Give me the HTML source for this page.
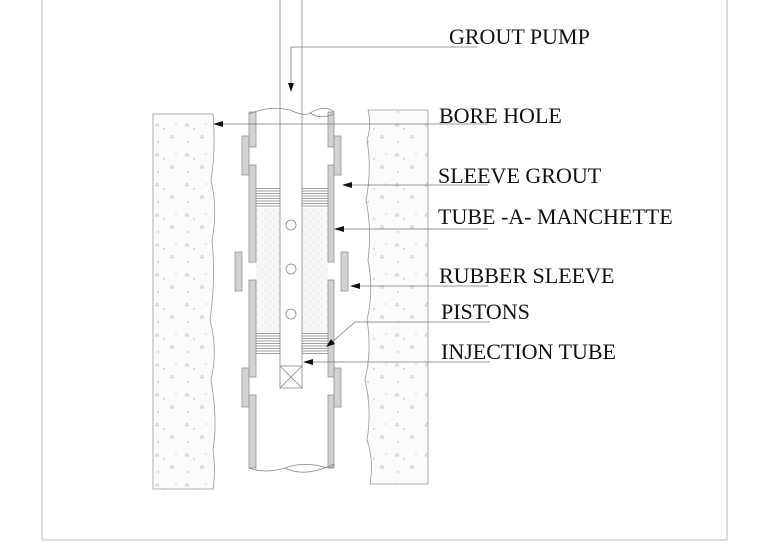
<!DOCTYPE html>
<html><head><meta charset="utf-8"><style>
html,body{margin:0;padding:0;background:#fff;}
svg{display:block;}
text{font-family:"Liberation Serif",serif;font-size:22px;fill:#111;}
</style></head><body>
<svg width="768" height="542" viewBox="0 0 768 542" xmlns="http://www.w3.org/2000/svg">
<defs>
<pattern id="speck" width="30" height="30" patternUnits="userSpaceOnUse">
<rect width="30" height="30" fill="#fbfbfb"/>
<path d="M5 6l2-3 2 3z M20 18l2-3 2 3z" fill="none" stroke="#aaa" stroke-width="0.5"/>
<circle cx="14" cy="9" r="0.7" fill="#aaa"/><circle cx="8" cy="22" r="0.7" fill="#aaa"/><circle cx="26" cy="4" r="0.6" fill="#bbb"/>
</pattern>
<pattern id="fine" width="8" height="8" patternUnits="userSpaceOnUse">
<rect width="8" height="8" fill="#f6f6f6"/><circle cx="2" cy="3" r="0.5" fill="#bbb"/><circle cx="6" cy="6" r="0.5" fill="#ccc"/>
</pattern>
<pattern id="hatch" width="4" height="2.5" patternUnits="userSpaceOnUse">
<rect width="4" height="2.5" fill="#fff"/><line x1="0" y1="1" x2="4" y2="1" stroke="#888" stroke-width="0.8"/>
</pattern>
</defs>
<g fill="none" stroke="#bbb" stroke-width="1">
<line x1="42" y1="0" x2="42" y2="540"/><line x1="42" y1="540" x2="727" y2="540"/><line x1="727" y1="0" x2="727" y2="540"/>
</g>
<path d="M153 114 H213 Q216 150 211 180 Q218 210 212 240 Q216 280 210 320 Q218 350 211 380 Q218 420 213 450 Q216 470 213 489 H153 Z" fill="url(#speck)" stroke="#999" stroke-width="0.8"/>
<path d="M368 110 H428 V484 H370 Q374 460 367 440 Q372 410 365 380 Q372 350 367 320 Q374 290 368 260 Q372 230 366 200 Q372 170 367 140 Q372 125 368 110 Z" fill="url(#speck)" stroke="#999" stroke-width="0.8"/>
<rect x="256" y="208" width="24" height="125" fill="url(#fine)"/>
<rect x="302" y="208" width="26" height="125" fill="url(#fine)"/>
<rect x="256" y="187" width="24" height="21" fill="url(#hatch)"/><rect x="302" y="187" width="26" height="21" fill="url(#hatch)"/>
<rect x="256" y="333" width="24" height="21" fill="url(#hatch)"/><rect x="302" y="333" width="26" height="21" fill="url(#hatch)"/>
<g fill="#d2d2d2" stroke="#888" stroke-width="0.7">
<rect x="249" y="112" width="7" height="35"/><rect x="249" y="165" width="7" height="97"/><rect x="249" y="280" width="7" height="97"/><rect x="249" y="395" width="7" height="73"/>
<rect x="328" y="112" width="6" height="35"/><rect x="328" y="165" width="6" height="97"/><rect x="328" y="280" width="6" height="97"/><rect x="328" y="395" width="6" height="73"/>
<rect x="242" y="136" width="7" height="39"/><rect x="242" y="368" width="7" height="39"/>
<rect x="334" y="136" width="7" height="39"/><rect x="334" y="368" width="7" height="39"/>
<rect x="235" y="252" width="7" height="39"/><rect x="341" y="252" width="7" height="39"/>
</g>
<g fill="none" stroke="#888" stroke-width="0.8">
<path d="M249 114 Q270 105 290 110 Q305 117 310 113 Q325 104 334 112"/>
<path d="M249 468 Q265 474 285 468 Q300 462 320 466 Q334 470 334 464"/>
<path d="M310 113 Q320 120 334 114"/>
<path d="M285 468 Q305 478 334 464"/>
<line x1="280" y1="0" x2="280" y2="366"/><line x1="302" y1="0" x2="302" y2="366"/>
<rect x="280" y="366" width="22" height="22"/><path d="M280 366 L302 388 M302 366 L280 388"/>
<circle cx="291" cy="225" r="5"/><circle cx="291" cy="269" r="5"/><circle cx="291" cy="314" r="5"/>
</g>
<g stroke="#777" stroke-width="0.8" fill="none">
<path d="M291 47 H477"/><path d="M291 47 V84"/>
<path d="M222 124 H488"/><path d="M350 185 H488"/><path d="M342 229 H488"/>
<path d="M358 286 H488"/><path d="M490 322 H355 L331 343"/><path d="M311 362 H490"/>
</g>
<g fill="#111">
<path d="M291 92 L288 83 L294 83 Z"/>
<path d="M213 124 L223 121 L223 127 Z"/>
<path d="M342 185 L352 182 L352 188 Z"/>
<path d="M334 229 L344 226 L344 232 Z"/>
<path d="M350 286 L360 283 L360 289 Z"/>
<path d="M326 347 L331 339 L335 344 Z"/>
<path d="M303 362 L313 359 L313 365 Z"/>
</g>
<text x="449" y="44">GROUT PUMP</text>
<text x="439" y="123">BORE HOLE</text>
<text x="438" y="183">SLEEVE GROUT</text>
<text x="438" y="224">TUBE -A- MANCHETTE</text>
<text x="439" y="283">RUBBER SLEEVE</text>
<text x="441" y="319">PISTONS</text>
<text x="441" y="359">INJECTION TUBE</text>
</svg>
</body></html>
